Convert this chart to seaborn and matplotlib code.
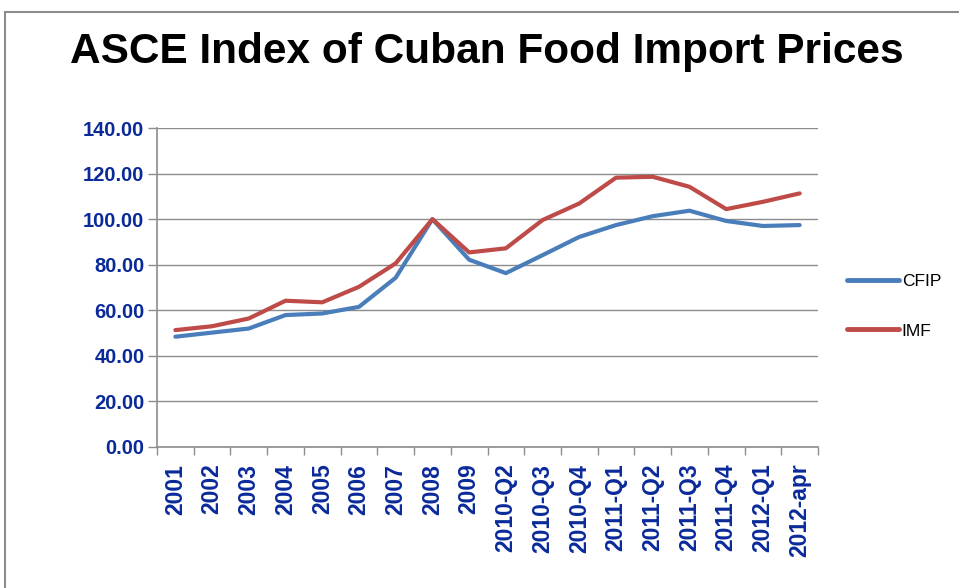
import matplotlib
matplotlib.use("Agg")
import matplotlib.pyplot as plt
import matplotlib.patches as mpatches
import seaborn as sns
import pandas as pd
import numpy as np

categories = ["2001", "2002", "2003", "2004", "2005", "2006", "2007", "2008", "2009",
              "2010-Q2", "2010-Q3", "2010-Q4", "2011-Q1", "2011-Q2", "2011-Q3",
              "2011-Q4", "2012-Q1", "2012-apr"]
cfip = [48.4, 50.2, 52.0, 57.9, 58.6, 61.5, 74.3, 100.0, 82.2, 76.3, 84.2, 92.2,
        97.4, 101.3, 103.7, 99.2, 97.0, 97.4]
imf = [51.3, 53.0, 56.4, 64.2, 63.5, 70.3, 80.6, 100.0, 85.4, 87.2, 99.6, 106.9,
       118.2, 118.6, 114.2, 104.4, 107.6, 111.3]
series_names = ["CFIP", "IMF"]
yticks = [0, 20, 40, 60, 80, 100, 120, 140]

sns.set_theme(style="white")
plt.rcParams["font.family"] = ["Liberation Sans", "DejaVu Sans"]

df = pd.DataFrame({
    "pos": list(range(len(categories))) * 2,
    "value": cfip + imf,
    "series": [series_names[0]] * len(categories) + [series_names[1]] * len(categories),
})

fig = plt.figure(figsize=(9.59, 5.88), dpi=100)
# outer frame
fig.patches.append(mpatches.Rectangle((5 / 959, -0.05), 1.1, (588 - 12) / 588 + 0.05,
                                      transform=fig.transFigure, fill=False,
                                      edgecolor="#8c8c8c", linewidth=1.5))
ax = fig.add_axes([157 / 959, (588 - 447) / 588, (818 - 157) / 959, (447 - 128) / 588])

sns.lineplot(data=df, x="pos", y="value", hue="series",
             palette={"CFIP": "#4a7ebb", "IMF": "#be4b48"}, linewidth=3.0, ax=ax)

tick_color = "#0a2a9a"
ax.set_xlim(-0.5, len(categories) - 0.5)
ax.set_ylim(0, 140)
ax.set_yticks(yticks)
ax.set_yticklabels([f"{v:.2f}" for v in yticks], fontsize=14.5, fontweight="bold", color=tick_color)
ax.set_xticks(range(len(categories)))
ax.set_xticklabels(categories, rotation=90, fontsize=16.5, fontweight="bold", color=tick_color)
ax.set_xticks(np.arange(-0.5, len(categories), 1.0), minor=True)
ax.tick_params(axis="x", which="major", length=0, pad=12)
ax.tick_params(axis="x", which="minor", length=6, color="#8c8c8c", width=1, direction="out", bottom=True)
ax.tick_params(axis="y", length=6.5, color="#8c8c8c", width=1, direction="out", left=True, pad=2.5)
ax.grid(axis="y", color="#8c8c8c", linewidth=1)
ax.set_axisbelow(True)
for s in ["top", "right"]:
    ax.spines[s].set_visible(False)
for s in ["left", "bottom"]:
    ax.spines[s].set_color("#8c8c8c")
    ax.spines[s].set_linewidth(1.2)
ax.set_xlabel("")
ax.set_ylabel("")

leg = ax.legend(title=None, frameon=False, loc="center left",
                bbox_to_anchor=((847 - 157) / 661, (447 - 306) / 319),
                borderaxespad=0, borderpad=0,
                handlelength=3.0, handletextpad=0.15, labelspacing=2.0, fontsize=12.5)
for line in leg.get_lines():
    line.set_linewidth(3.5)
for t in leg.get_texts():
    t.set_color("black")

fig.text(487 / 959, 1 - 52 / 588, "ASCE Index of Cuban Food Import Prices", ha="center", va="center",
         fontsize=30.5, fontweight="bold", color="black")

fig.savefig("out.png", dpi=100)
